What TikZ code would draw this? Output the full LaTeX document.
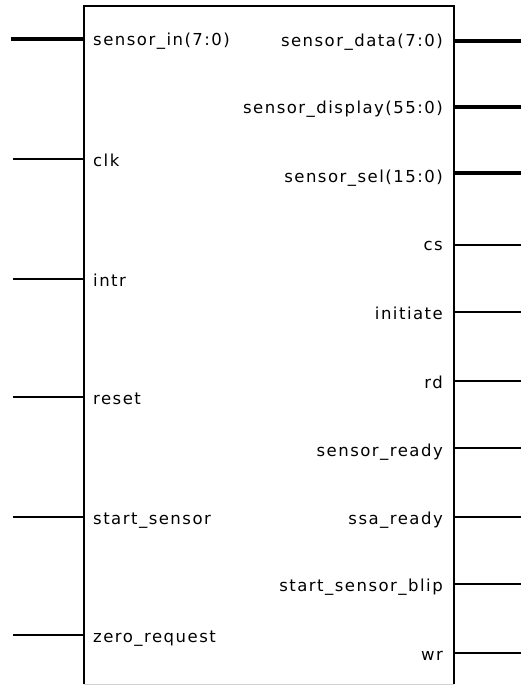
\documentclass[tikz,border=0pt]{standalone}
\usepackage{fontspec}
\setmainfont{DejaVu Sans}[LetterSpace=9]
\begin{document}
\begin{tikzpicture}[x=1pt,y=-1pt,
  pinlbl/.style={inner sep=0pt,font=\fontsize{16.5}{18}\selectfont},
  lpin/.style={pinlbl,anchor=base west},
  rpin/.style={pinlbl,anchor=base east},
  wire/.style={line width=1.8pt},
  bus/.style={line width=3.8pt},
  frame/.style={line width=2pt}]
\useasboundingbox (0,0) rectangle (521,686);
\fill[white] (0,0) rectangle (521,686);

% component body
\node[inner sep=0pt,minimum width=370pt,minimum height=678pt] (blk) at (269,345) {};
\draw[frame] (blk.south west) -- (blk.north west) -- (blk.north east) -- (blk.south east);
\draw[gray!35,line width=1pt] (blk.south west) -- (blk.south east);

% left-hand ports
\coordinate (pA) at (11,39.3);
\coordinate (pB) at (13,158.7);
\coordinate (pC) at (13,279);
\coordinate (pD) at (13,396.7);
\coordinate (pE) at (13,517.3);
\coordinate (pF) at (13,635);
\draw[bus]  (pA) -- (pA -| blk.west);
\draw[wire] (pB) -- (pB -| blk.west);
\draw[wire] (pC) -- (pC -| blk.west);
\draw[wire] (pD) -- (pD -| blk.west);
\draw[wire] (pE) -- (pE -| blk.west);
\draw[wire] (pF) -- (pF -| blk.west);
\node[lpin] (lA) at (93,45.5)  {sensor\_in(7:0)};
\node[lpin] (lB) at (93,166)   {clk};
\node[lpin] (lC) at (93,286)   {intr};
\node[lpin] (lD) at (93,404)   {reset};
\node[lpin] (lE) at (93,524.3) {start\_sensor};
\node[lpin] (lF) at (93,642.5) {zero\_request};

% right-hand ports
\coordinate (qA) at (521,40.7);
\coordinate (qB) at (521,107.3);
\coordinate (qC) at (521,173.3);
\coordinate (qD) at (521,245);
\coordinate (qE) at (521,312.3);
\coordinate (qF) at (521,381);
\coordinate (qG) at (521,448.3);
\coordinate (qH) at (521,517.3);
\coordinate (qI) at (521,584.3);
\coordinate (qJ) at (521,653.3);
\draw[bus]  (qA -| blk.east) -- (qA);
\draw[bus]  (qB -| blk.east) -- (qB);
\draw[bus]  (qC -| blk.east) -- (qC);
\draw[wire] (qD -| blk.east) -- (qD);
\draw[wire] (qE -| blk.east) -- (qE);
\draw[wire] (qF -| blk.east) -- (qF);
\draw[wire] (qG -| blk.east) -- (qG);
\draw[wire] (qH -| blk.east) -- (qH);
\draw[wire] (qI -| blk.east) -- (qI);
\draw[wire] (qJ -| blk.east) -- (qJ);
\node[rpin] (rA) at (443,46.7)  {sensor\_data(7:0)};
\node[rpin] (rB) at (443,113.5) {sensor\_display(55:0)};
\node[rpin] (rC) at (443,182.5) {sensor\_sel(15:0)};
\node[rpin] (rD) at (443,250)   {cs};
\node[rpin] (rE) at (443,319)   {initiate};
\node[rpin] (rF) at (443,388.3) {rd};
\node[rpin] (rG) at (443,456)   {sensor\_ready};
\node[rpin] (rH) at (443,524.3) {ssa\_ready};
\node[rpin] (rI) at (443,591.7) {start\_sensor\_blip};
\node[rpin] (rJ) at (443,660)   {wr};
\end{tikzpicture}
\end{document}
